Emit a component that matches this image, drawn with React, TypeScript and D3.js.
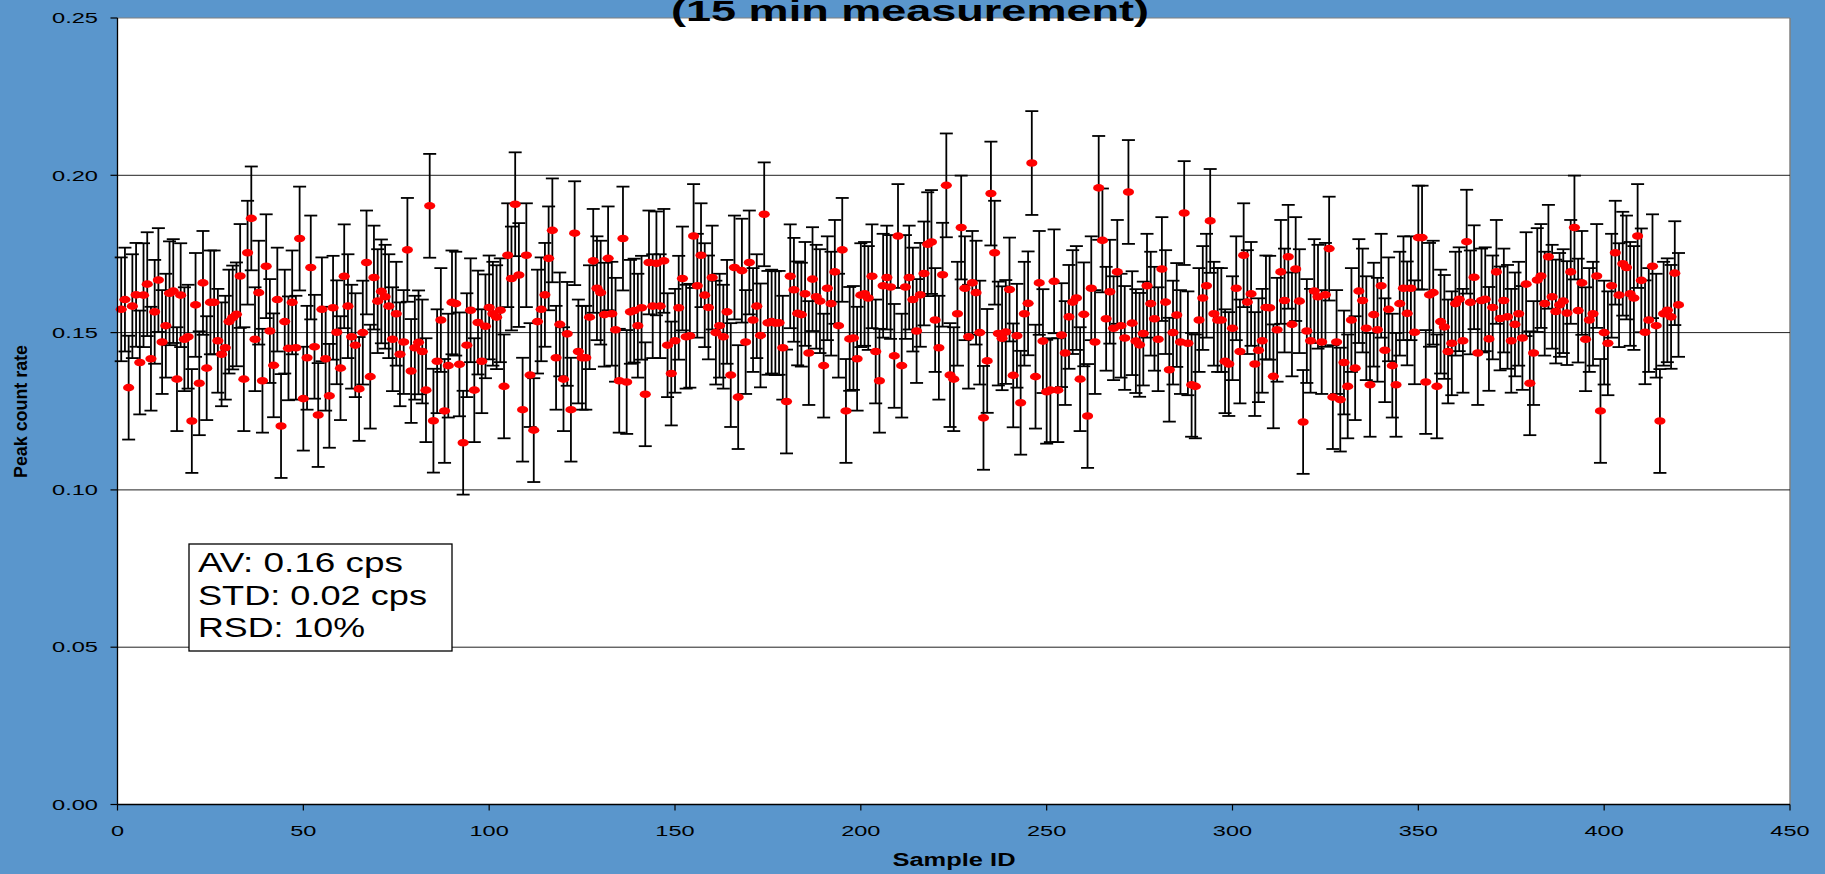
import React from "react";
import * as d3 from "d3";

const W = 1825;
const H = 874;
const FONT = "'Liberation Sans', Arial, Helvetica, sans-serif";

const TITLE = "(15 min measurement)";
const X_TITLE = "Sample ID";
const Y_TITLE = "Peak count rate";
const STATS = ["AV: 0.16 cps", "STD: 0.02 cps", "RSD: 10%"];
const STATS_WIDTHS = [205, 229, 167];

const X_TICKS = [0, 50, 100, 150, 200, 250, 300, 350, 400, 450];
const Y_TICKS = [0, 0.05, 0.1, 0.15, 0.2, 0.25];
const GRID_LINES = [0.05, 0.1, 0.15, 0.2];

const ERR = 0.0165;

// Peak count rate per sample (samples 1..420)
const SEG_A = [
  0.1574, 0.1605, 0.1325, 0.1584, 0.162, 0.1405, 0.1619, 0.1654, 0.1417, 0.1566,
  0.1667, 0.147, 0.1522, 0.1625, 0.1632, 0.1352, 0.1619, 0.1479, 0.1487, 0.1219,
  0.1588, 0.1339, 0.1658, 0.1387, 0.1596, 0.1596, 0.1474, 0.1431, 0.1452, 0.1535,
  0.1548, 0.1558, 0.168, 0.1352, 0.1754, 0.1863, 0.1479, 0.1627, 0.1347, 0.1711,
  0.1505, 0.1396, 0.1605, 0.1203, 0.1535, 0.145, 0.1596, 0.1452, 0.1799, 0.129,
  0.142, 0.1707,
];
const SEG_B = [
  0.1455, 0.1238, 0.1574, 0.1417, 0.1299, 0.1579, 0.1501, 0.1387, 0.1679, 0.1584,
  0.1487, 0.146, 0.1321, 0.15, 0.1723, 0.136, 0.1675, 0.16, 0.1631, 0.1614,
  0.1584, 0.1479, 0.156, 0.1431, 0.147, 0.1763, 0.1378, 0.1452, 0.1469, 0.144,
  0.1317, 0.1903, 0.122, 0.1409, 0.154, 0.1251, 0.1395, 0.1596, 0.1592, 0.1399,
  0.115, 0.146, 0.1571, 0.1317, 0.1532, 0.1409, 0.152, 0.158, 0.156, 0.1549,
  0.1571, 0.1329, 0.1746,
];
const SEG_C = [
  0.1672, 0.1908, 0.1683, 0.1255, 0.1746, 0.1365, 0.119, 0.1535, 0.1574, 0.162,
  0.1736, 0.1825, 0.142, 0.1526, 0.1352, 0.1496, 0.1255, 0.1816, 0.144, 0.142,
  0.142, 0.1549, 0.1728, 0.1641, 0.1627, 0.1557, 0.1736, 0.156, 0.1509, 0.1347,
  0.1799, 0.1343, 0.1566, 0.157, 0.1522, 0.1579, 0.1304, 0.1723, 0.1584, 0.172,
  0.1584, 0.1728, 0.146, 0.137, 0.1474, 0.1579, 0.1672, 0.1487, 0.149, 0.1807,
  0.1649, 0.1746,
];
const SEG_D = [
  0.1619, 0.158, 0.1675, 0.15, 0.1522, 0.1487, 0.1566, 0.1365, 0.1707, 0.1295,
  0.1697, 0.147, 0.1723, 0.154, 0.1584, 0.1491, 0.1876, 0.1531, 0.1535, 0.153,
  0.1531, 0.1452, 0.1281, 0.1679, 0.1636, 0.1561, 0.1557, 0.1623, 0.1435, 0.167,
  0.1614, 0.16, 0.1395, 0.1641, 0.1592, 0.1693, 0.1522, 0.1763, 0.1251, 0.148,
  0.1483, 0.1417, 0.1619, 0.1623, 0.161, 0.1679, 0.144, 0.1347, 0.1649, 0.1675,
  0.1645, 0.1426, 0.1807,
];
const SEG_E = [
  0.1395, 0.1645, 0.1675, 0.1605, 0.1505, 0.162, 0.1688, 0.1781, 0.1788, 0.154,
  0.1452, 0.1684, 0.1968, 0.1365, 0.1352, 0.156, 0.1834, 0.1641, 0.1487, 0.1658,
  0.1627, 0.15, 0.1229, 0.141, 0.1942, 0.1754, 0.1497, 0.1482, 0.1502, 0.1637,
  0.1364, 0.149, 0.1277, 0.156, 0.1593, 0.2039, 0.136, 0.1658, 0.1473, 0.1312,
  0.1317, 0.1663, 0.1317, 0.1492, 0.1435, 0.155, 0.1597, 0.161, 0.1352, 0.1558,
  0.1235, 0.1641,
];
const SEG_F = [
  0.147, 0.196, 0.1793, 0.1544, 0.163, 0.1514, 0.1693, 0.1522, 0.1483, 0.1947,
  0.153, 0.1473, 0.1461, 0.1497, 0.1649, 0.1592, 0.1544, 0.1479, 0.1702, 0.1597,
  0.1382, 0.15, 0.1556, 0.147, 0.188, 0.1466, 0.1334, 0.1329, 0.154, 0.161,
  0.1649, 0.1855, 0.156, 0.154, 0.154, 0.1409, 0.14, 0.1514, 0.1641, 0.144,
  0.1746, 0.1597, 0.1623, 0.14, 0.1444, 0.1474, 0.158, 0.1579, 0.1361, 0.1509,
  0.1693, 0.1602, 0.1741,
];
const SEG_G = [
  0.1526, 0.1702, 0.16, 0.1216, 0.1505, 0.1474, 0.1632, 0.1614, 0.147, 0.162,
  0.1767, 0.1295, 0.147, 0.1287, 0.1405, 0.1329, 0.154, 0.1387, 0.1632, 0.1602,
  0.1514, 0.1334, 0.1557, 0.1509, 0.1649, 0.1444, 0.1574, 0.1395, 0.1334, 0.1592,
  0.1641, 0.1561, 0.1641, 0.1501, 0.1802, 0.1802, 0.1343, 0.162, 0.1627, 0.1329,
  0.1535, 0.1518, 0.144, 0.1466, 0.1592, 0.1606, 0.1474, 0.1789, 0.1596, 0.1676,
  0.1435, 0.1602,
];
const SEG_H = [
  0.1606, 0.148, 0.158, 0.1693, 0.1545, 0.1602, 0.155, 0.1474, 0.1526, 0.156,
  0.1483, 0.1654, 0.1339, 0.1435, 0.1667, 0.168, 0.1592, 0.1741, 0.1614, 0.1567,
  0.1588, 0.16, 0.1562, 0.1693, 0.1834, 0.157, 0.1658, 0.1479, 0.154, 0.156,
  0.168, 0.1251, 0.15, 0.1466, 0.1649, 0.1754, 0.1619, 0.1719, 0.1707, 0.1623,
  0.161, 0.1807, 0.1666, 0.1501, 0.154, 0.1711, 0.1522, 0.1219, 0.156, 0.1571,
  0.155, 0.1689, 0.1588,
];

const VALUES = [
  ...SEG_A, ...SEG_B, ...SEG_C, ...SEG_D, ...SEG_E, ...SEG_F, ...SEG_G, ...SEG_H,
];
const DATA = VALUES.map((v, i) => ({ id: i + 1, v }));

export default function App() {
  const left = 117.5;
  const right = 1790;
  const top = 18;
  const bottom = 804.5;
  const x = d3.scaleLinear().domain([0, 450]).range([left, right]);
  const y = d3.scaleLinear().domain([0, 0.25]).range([bottom, top]);
  const fmtY = d3.format(".2f");
  const capHalf = 6.5;

  return (
    <div style={{ position: "absolute", left: 0, top: 0, width: W, height: H, overflow: "hidden" }}>
      <svg width={W} height={H} style={{ display: "block" }}>
        <rect x={0} y={0} width={W} height={H} fill="#5A96CC" />
        <rect x={left} y={top} width={right - left} height={bottom - top} fill="#ffffff" />
        {/* plot area frame (top/right) */}
        <line x1={left} x2={right} y1={top} y2={top} stroke="#808080" strokeWidth={1.2} />
        <line x1={right} x2={right} y1={top} y2={bottom} stroke="#808080" strokeWidth={1.5} />
        {/* gridlines */}
        {GRID_LINES.map((g) => (
          <line key={"g" + g} x1={left} x2={right} y1={y(g)} y2={y(g)} stroke="#222" strokeWidth={1} />
        ))}
        {/* error bars */}
        <g stroke="#000" strokeWidth={1.8} fill="none">
          {DATA.map((d) => {
            const cx = x(d.id);
            const y1 = y(d.v + ERR);
            const y2 = y(d.v - ERR);
            return (
              <g key={"e" + d.id}>
                <line x1={cx} x2={cx} y1={y1} y2={y2} />
                <line x1={cx - capHalf} x2={cx + capHalf} y1={y1} y2={y1} />
                <line x1={cx - capHalf} x2={cx + capHalf} y1={y2} y2={y2} />
              </g>
            );
          })}
        </g>
        {/* markers */}
        <g fill="#FF0000">
          {DATA.map((d) => (
            <ellipse key={"m" + d.id} cx={x(d.id)} cy={y(d.v)} rx={5.6} ry={3.8} />
          ))}
        </g>
        {/* axes */}
        <line x1={left} x2={left} y1={top} y2={bottom} stroke="#000" strokeWidth={1.3} />
        <line x1={left} x2={right} y1={bottom} y2={bottom} stroke="#000" strokeWidth={1.3} />
        {Y_TICKS.map((t) => (
          <g key={"yt" + t}>
            <line x1={left - 7} x2={left} y1={y(t)} y2={y(t)} stroke="#000" strokeWidth={1.2} />
            <text
              x={98}
              y={y(t) + 5.2}
              textAnchor="end"
              fontFamily={FONT}
              fontSize={14.5}
              textLength={46}
              lengthAdjust="spacingAndGlyphs"
              fill="#000"
            >
              {fmtY(t)}
            </text>
          </g>
        ))}
        {X_TICKS.map((t) => {
          const label = String(t);
          return (
            <g key={"xt" + t}>
              <line x1={x(t)} x2={x(t)} y1={bottom} y2={bottom + 6} stroke="#000" strokeWidth={1.2} />
              <text
                x={x(t)}
                y={835.7}
                textAnchor="middle"
                fontFamily={FONT}
                fontSize={15.5}
                textLength={13.1 * label.length}
                lengthAdjust="spacingAndGlyphs"
                fill="#000"
              >
                {label}
              </text>
            </g>
          );
        })}
        {/* axis titles */}
        <text
          x={954}
          y={866}
          textAnchor="middle"
          fontFamily={FONT}
          fontWeight="bold"
          fontSize={18}
          textLength={123}
          lengthAdjust="spacingAndGlyphs"
          fill="#000"
        >
          {X_TITLE}
        </text>
        <text
          transform={`translate(27,411.5) rotate(-90)`}
          textAnchor="middle"
          fontFamily={FONT}
          fontWeight="bold"
          fontSize={18}
          textLength={133}
          lengthAdjust="spacingAndGlyphs"
          fill="#000"
        >
          {Y_TITLE}
        </text>
        {/* title (partially cut at top) */}
        <text
          x={910}
          y={21}
          textAnchor="middle"
          fontFamily={FONT}
          fontWeight="bold"
          fontSize={30}
          textLength={478}
          lengthAdjust="spacingAndGlyphs"
          fill="#000"
        >
          {TITLE}
        </text>
        {/* stats box */}
        <rect x={189} y={544} width={263} height={107} fill="#ffffff" stroke="#000" strokeWidth={1.3} />
        {STATS.map((s, i) => (
          <text
            key={s}
            x={198}
            y={572 + i * 32.5}
            fontFamily={FONT}
            fontSize={27}
            textLength={STATS_WIDTHS[i]}
            lengthAdjust="spacingAndGlyphs"
            fill="#000"
          >
            {s}
          </text>
        ))}
      </svg>
    </div>
  );
}
